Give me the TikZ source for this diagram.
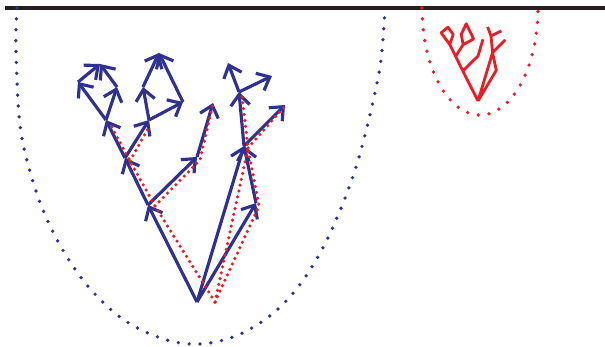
\documentclass[tikz,border=0pt]{standalone}
\usepackage{tikz}
\usetikzlibrary{arrows.meta}
\definecolor{coneblue}{RGB}{46,49,146}
\definecolor{conered}{RGB}{237,28,36}
\definecolor{slice}{RGB}{35,31,32}

% points of the tree, in pixels of the figure
\newcommand{\treepoints}[1]{%
\coordinate (#1r) at (197,44);
\coordinate (#1a) at (148,141);
\coordinate (#1b) at (256,143);
\coordinate (#1c) at (244,200);
\coordinate (#1d) at (125,188);
\coordinate (#1e) at (197,189);
\coordinate (#1f) at (106,226);
\coordinate (#1g) at (149,226);
\coordinate (#1h) at (213,243);
\coordinate (#1i) at (78,264);
\coordinate (#1j) at (117,259);
\coordinate (#1k) at (100,282);
\coordinate (#1l) at (143,259);
\coordinate (#1m) at (183,244);
\coordinate (#1n) at (159,293);
\coordinate (#1o) at (239,254);
\coordinate (#1p) at (285,241);
\coordinate (#1q) at (228,283);
\coordinate (#1s) at (272,270);
}

\begin{document}
\begin{tikzpicture}[x=0.02cm,y=0.02cm,
  edge/.style={coneblue,line width=1.8pt,line join=round,-{Straight Barb[length=2.2mm,width=3.8mm]}},
  trace/.style={conered,line width=2pt,line cap=round,dash pattern=on 0pt off 3.4pt},
  bound/.style={line width=2.1pt,line cap=round,dash pattern=on 0pt off 6.2pt},
  sprout/.style={conered,line width=1.6pt,line join=round}]
\useasboundingbox (0,0) rectangle (605,346);
\draw[slice,line width=2.2pt] (5,338) -- (605,338);

% light cones
\draw[bound,coneblue] plot[smooth,tension=0.6] coordinates {(17,338) (16,296) (20,221) (31,171) (46,129) (67,89) (93,54) (127,24) (167,6) (200,2) (233,9) (263,25) (288,47) (308,73) (325,102) (339,133) (351,164) (361,196) (372,240) (381,286) (385,338)};
\draw[bound,conered] (422,338) arc[start angle=180,end angle=360,x radius=58,y radius=107];

% big tree
\treepoints{}
\draw[edge] (r) -- (a);
\draw[edge] (r) -- (b);
\draw[edge] (r) -- (c);
\draw[edge] (b) -- (c);
\draw[edge] (a) -- (d);
\draw[edge] (a) -- (e);
\draw[edge] (d) -- (f);
\draw[edge] (d) -- (g);
\draw[edge] (e) -- (h);
\draw[edge] (f) -- (i);
\draw[edge] (f) -- (j);
\draw[edge] (i) -- (k);
\draw[edge] (j) -- (k);
\draw[edge] (g) -- (l);
\draw[edge] (g) -- (m);
\draw[edge] (l) -- (n);
\draw[edge] (m) -- (n);
\draw[edge] (c) -- (o);
\draw[edge] (c) -- (p);
\draw[edge] (o) -- (q);
\draw[edge] (o) -- (s);

% dotted red path
\coordinate (tr) at (215,44);
\coordinate (ta) at (155,140);
\coordinate (td) at (130,185);
\coordinate (tf) at (110,222);
\coordinate (tg) at (150,221);
\coordinate (te) at (200,186);
\coordinate (th) at (213,243);
\coordinate (tb) at (259,140);
\coordinate (tc) at (248,198);
\coordinate (to) at (242,250);
\coordinate (tp) at (284,239);
\draw[trace] (tr) -- (ta) -- (td) -- (tf) (td) -- (tg) (ta) -- (te) -- (th);
\draw[trace] (tr) -- (tc) -- (to) (tc) -- (tp) (tr) -- (tb) -- (tc);

% small tree
\begin{scope}[shift={(478,245)},scale=0.31,shift={(-197,-44)}]
\treepoints{s}
\draw[sprout] (sr) -- (sa) -- (sd) -- (sf) -- (si) -- (sk) -- (sj) -- (sf)
  (sd) -- (sg) -- (sl) -- (sn) -- (sm) -- (sg) (sa) -- (se) -- (sh)
  (sr) -- (sc) -- (so) -- (sq) (so) -- (ss) (sc) -- (sp) (sr) -- (sb) -- (sc);
\end{scope}
\end{tikzpicture}
\end{document}
